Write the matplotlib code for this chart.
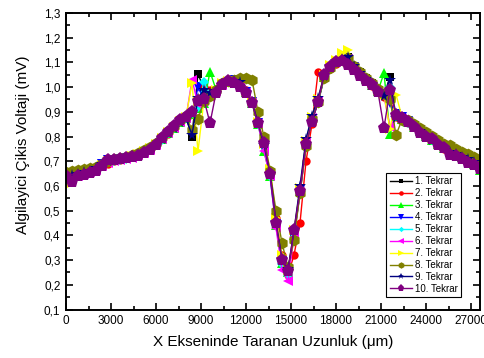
import matplotlib
matplotlib.use("Agg")
from matplotlib import pyplot as plt
from matplotlib.ticker import MultipleLocator, FuncFormatter
import numpy as np

plt.rcParams['font.family'] = ['Liberation Sans', 'DejaVu Sans']

# scan positions (um), one reading every 400 um
x_um = np.arange(0, 27601, 400)

tekrar_1 = [0.650, 0.655, 0.660, 0.660, 0.665, 0.670, 0.685, 0.700, 0.705, 0.710,
            0.715, 0.720, 0.730, 0.740, 0.750, 0.770, 0.795, 0.820, 0.840, 0.865,
            0.880, 0.800, 1.055, 0.990, 0.975, 0.990, 1.015, 1.025, 1.030, 1.020,
            0.985, 0.945, 0.860, 0.770, 0.655, 0.460, 0.310, 0.260, 0.400, 0.570,
            0.760, 0.865, 0.935, 1.035, 1.080, 1.105, 1.115, 1.120, 1.085, 1.060,
            1.035, 1.015, 0.990, 0.970, 1.040, 0.880, 0.880, 0.865, 0.845, 0.830,
            0.810, 0.795, 0.775, 0.760, 0.745, 0.735, 0.725, 0.715, 0.705, 0.690]
tekrar_2 = [0.640, 0.650, 0.650, 0.655, 0.660, 0.670, 0.680, 0.690, 0.700, 0.705,
            0.712, 0.718, 0.728, 0.738, 0.748, 0.768, 0.790, 0.812, 0.835, 0.858,
            0.880, 0.900, 0.925, 1.000, 0.990, 0.985, 1.010, 1.025, 1.030, 1.030,
            0.990, 0.945, 0.860, 0.770, 0.660, 0.470, 0.320, 0.240, 0.320, 0.450,
            0.700, 0.850, 1.060, 1.045, 1.075, 1.095, 1.110, 1.115, 1.080, 1.055,
            1.030, 1.005, 0.980, 0.960, 0.950, 0.880, 0.870, 0.855, 0.840, 0.820,
            0.800, 0.785, 0.765, 0.750, 0.735, 0.725, 0.715, 0.705, 0.695, 0.680]
tekrar_3 = [0.645, 0.650, 0.655, 0.660, 0.665, 0.672, 0.688, 0.700, 0.705, 0.710,
            0.715, 0.720, 0.728, 0.738, 0.750, 0.768, 0.792, 0.815, 0.836, 0.858,
            0.874, 0.892, 0.915, 0.935, 1.063, 0.990, 1.012, 1.022, 1.028, 1.022,
            0.982, 0.935, 0.850, 0.740, 0.640, 0.440, 0.290, 0.250, 0.400, 0.580,
            0.780, 0.880, 0.945, 1.040, 1.082, 1.100, 1.112, 1.118, 1.082, 1.058,
            1.032, 1.010, 0.985, 1.057, 0.810, 0.885, 0.872, 0.858, 0.838, 0.822,
            0.802, 0.788, 0.768, 0.752, 0.738, 0.728, 0.718, 0.708, 0.690, 0.665]
tekrar_4 = [0.635, 0.645, 0.650, 0.655, 0.660, 0.670, 0.690, 0.705, 0.705, 0.708,
            0.712, 0.718, 0.726, 0.736, 0.748, 0.766, 0.790, 0.816, 0.836, 0.860,
            0.876, 0.895, 1.000, 0.950, 0.965, 0.985, 1.012, 1.022, 1.028, 1.020,
            0.980, 0.940, 0.855, 0.760, 0.645, 0.445, 0.295, 0.250, 0.410, 0.585,
            0.770, 0.870, 0.940, 1.040, 1.080, 1.102, 1.112, 1.115, 1.080, 1.055,
            1.030, 1.010, 0.985, 0.965, 0.935, 0.890, 0.878, 0.862, 0.842, 0.826,
            0.806, 0.790, 0.772, 0.756, 0.742, 0.732, 0.722, 0.712, 0.700, 0.688]
tekrar_5 = [0.625, 0.640, 0.645, 0.650, 0.658, 0.668, 0.682, 0.696, 0.702, 0.706,
            0.711, 0.716, 0.726, 0.736, 0.746, 0.764, 0.788, 0.814, 0.834, 0.858,
            0.874, 0.894, 0.920, 1.020, 0.970, 0.982, 1.010, 1.020, 1.028, 1.022,
            0.982, 0.940, 0.852, 0.762, 0.640, 0.440, 0.285, 0.240, 0.405, 0.575,
            0.768, 0.870, 0.942, 1.042, 1.085, 1.105, 1.115, 1.118, 1.082, 1.058,
            1.032, 1.012, 0.988, 0.968, 1.000, 0.885, 0.872, 0.856, 0.838, 0.822,
            0.802, 0.786, 0.768, 0.752, 0.738, 0.728, 0.718, 0.708, 0.698, 0.686]
tekrar_6 = [0.620, 0.635, 0.640, 0.648, 0.655, 0.665, 0.680, 0.694, 0.700, 0.704,
            0.710, 0.714, 0.724, 0.734, 0.744, 0.764, 0.790, 0.815, 0.835, 0.860,
            0.876, 1.030, 0.930, 0.945, 0.962, 0.985, 1.010, 1.020, 1.026, 1.018,
            0.978, 0.935, 0.850, 0.740, 0.640, 0.430, 0.260, 0.215, 0.395, 0.575,
            0.775, 0.875, 0.945, 1.040, 1.080, 1.100, 1.110, 1.115, 1.078, 1.054,
            1.028, 1.008, 0.982, 0.962, 0.840, 0.882, 0.870, 0.856, 0.836, 0.820,
            0.800, 0.784, 0.766, 0.750, 0.736, 0.726, 0.716, 0.706, 0.696, 0.684]
tekrar_7 = [0.600, 0.630, 0.640, 0.648, 0.655, 0.668, 0.685, 0.700, 0.706, 0.710,
            0.715, 0.720, 0.730, 0.740, 0.752, 0.770, 0.795, 0.818, 0.840, 0.862,
            0.880, 1.016, 0.740, 0.950, 0.968, 0.990, 1.015, 1.025, 1.030, 1.025,
            0.985, 0.945, 0.860, 0.770, 0.670, 0.470, 0.320, 0.260, 0.420, 0.590,
            0.780, 0.880, 0.950, 1.050, 1.090, 1.110, 1.140, 1.150, 1.090, 1.060,
            1.035, 1.015, 0.990, 0.970, 0.830, 0.970, 0.880, 0.865, 0.845, 0.830,
            0.810, 0.795, 0.775, 0.760, 0.745, 0.735, 0.725, 0.715, 0.700, 0.695]
tekrar_8 = [0.655, 0.660, 0.665, 0.668, 0.672, 0.678, 0.690, 0.702, 0.708, 0.712,
            0.718, 0.724, 0.734, 0.744, 0.756, 0.774, 0.798, 0.822, 0.842, 0.866,
            0.882, 0.827, 0.870, 0.945, 0.965, 0.990, 1.015, 1.025, 1.030, 1.035,
            1.036, 1.030, 0.900, 0.800, 0.660, 0.500, 0.370, 0.270, 0.380, 0.570,
            0.760, 0.870, 0.940, 1.035, 1.078, 1.100, 1.110, 1.116, 1.084, 1.060,
            1.036, 1.016, 0.992, 0.972, 0.950, 0.807, 0.867, 0.866, 0.850, 0.836,
            0.818, 0.802, 0.785, 0.770, 0.766, 0.748, 0.738, 0.728, 0.718, 0.705]
tekrar_9 = [0.640, 0.645, 0.650, 0.655, 0.662, 0.672, 0.688, 0.700, 0.704, 0.708,
            0.713, 0.718, 0.727, 0.737, 0.748, 0.766, 0.790, 0.814, 0.834, 0.857,
            0.872, 0.807, 0.955, 0.990, 0.975, 0.985, 1.010, 1.020, 1.026, 1.020,
            0.980, 0.940, 0.855, 0.765, 0.650, 0.455, 0.305, 0.262, 0.420, 0.600,
            0.790, 0.885, 0.955, 1.045, 1.085, 1.105, 1.115, 1.120, 1.084, 1.058,
            1.032, 1.012, 0.986, 0.966, 1.030, 0.875, 0.872, 0.858, 0.838, 0.822,
            0.802, 0.786, 0.768, 0.752, 0.738, 0.728, 0.718, 0.708, 0.698, 0.686]
tekrar_10 = [0.640, 0.617, 0.640, 0.645, 0.652, 0.660, 0.680, 0.705, 0.705, 0.710,
             0.713, 0.716, 0.722, 0.732, 0.745, 0.765, 0.795, 0.820, 0.842, 0.865,
             0.880, 0.900, 0.942, 0.950, 0.854, 0.976, 1.009, 1.023, 1.016, 1.000,
             0.976, 0.935, 0.854, 0.773, 0.650, 0.450, 0.300, 0.255, 0.420, 0.580,
             0.770, 0.860, 0.940, 1.050, 1.083, 1.100, 1.104, 1.090, 1.068, 1.045,
             1.025, 1.010, 0.980, 0.835, 0.990, 0.888, 0.876, 0.860, 0.840, 0.815,
             0.800, 0.790, 0.765, 0.754, 0.726, 0.720, 0.710, 0.693, 0.685, 0.670]

series = [tekrar_1, tekrar_2, tekrar_3, tekrar_4, tekrar_5,
          tekrar_6, tekrar_7, tekrar_8, tekrar_9, tekrar_10]
labels = ["%d. Tekrar" % (i + 1) for i in range(10)]

# Origin style colours and symbols
colors = ['#000000', '#FF0000', '#00FF00', '#0000FF', '#00FFFF',
          '#FF00FF', '#FFFF00', '#808000', '#000080', '#800080']
markers = ['s', 'o', '^', 'v', 'D', '<', '>', 'h', '*', 'p']
msizes = [5.5, 6, 7, 7, 5, 7, 7, 8.5, 8.5, 9.5]

fig = plt.figure(figsize=(4.84, 3.58), dpi=100)
ax = fig.add_axes([66 / 484, 48.5 / 358, 414 / 484, 296.5 / 358])

for y, lab, c, m, ms in zip(series, labels, colors, markers, msizes):
    ax.plot(x_um, y, color=c, marker=m, markersize=ms, markeredgewidth=0,
            linewidth=1, label=lab)

ax.set_xlim(0, 27600)
ax.set_ylim(0.1, 1.3)
ax.xaxis.set_major_locator(MultipleLocator(3000))
ax.xaxis.set_minor_locator(MultipleLocator(1500))
ax.yaxis.set_major_locator(MultipleLocator(0.1))
ax.yaxis.set_minor_locator(MultipleLocator(0.05))
ax.yaxis.set_major_formatter(FuncFormatter(lambda v, p: ("%.1f" % v).replace('.', ',')))
ax.xaxis.set_major_formatter(FuncFormatter(lambda v, p: "%d" % v))

ax.tick_params(which='both', direction='in', top=True, right=True,
               labelsize=8.5, width=1.2, pad=4)
ax.tick_params(which='major', length=5)
ax.tick_params(which='minor', length=3)
for sp in ax.spines.values():
    sp.set_linewidth(1.4)

ax.set_xlabel("X Ekseninde Taranan Uzunluk (\u03bcm)", fontsize=11, labelpad=6)
ax.set_ylabel("Algilayici \u00c7ikis Voltaji (mV)", fontsize=11)
ax.yaxis.set_label_coords(-0.088, 0.555)

leg = ax.legend(loc='lower right', bbox_to_anchor=(0.966, 0.025), fontsize=7,
                fancybox=False, edgecolor='black', framealpha=1,
                handlelength=2.3, labelspacing=0.2, borderpad=0.35,
                handletextpad=0.3, markerscale=0.55)
leg.get_frame().set_linewidth(0.8)

fig.savefig("out.png", dpi=100)
